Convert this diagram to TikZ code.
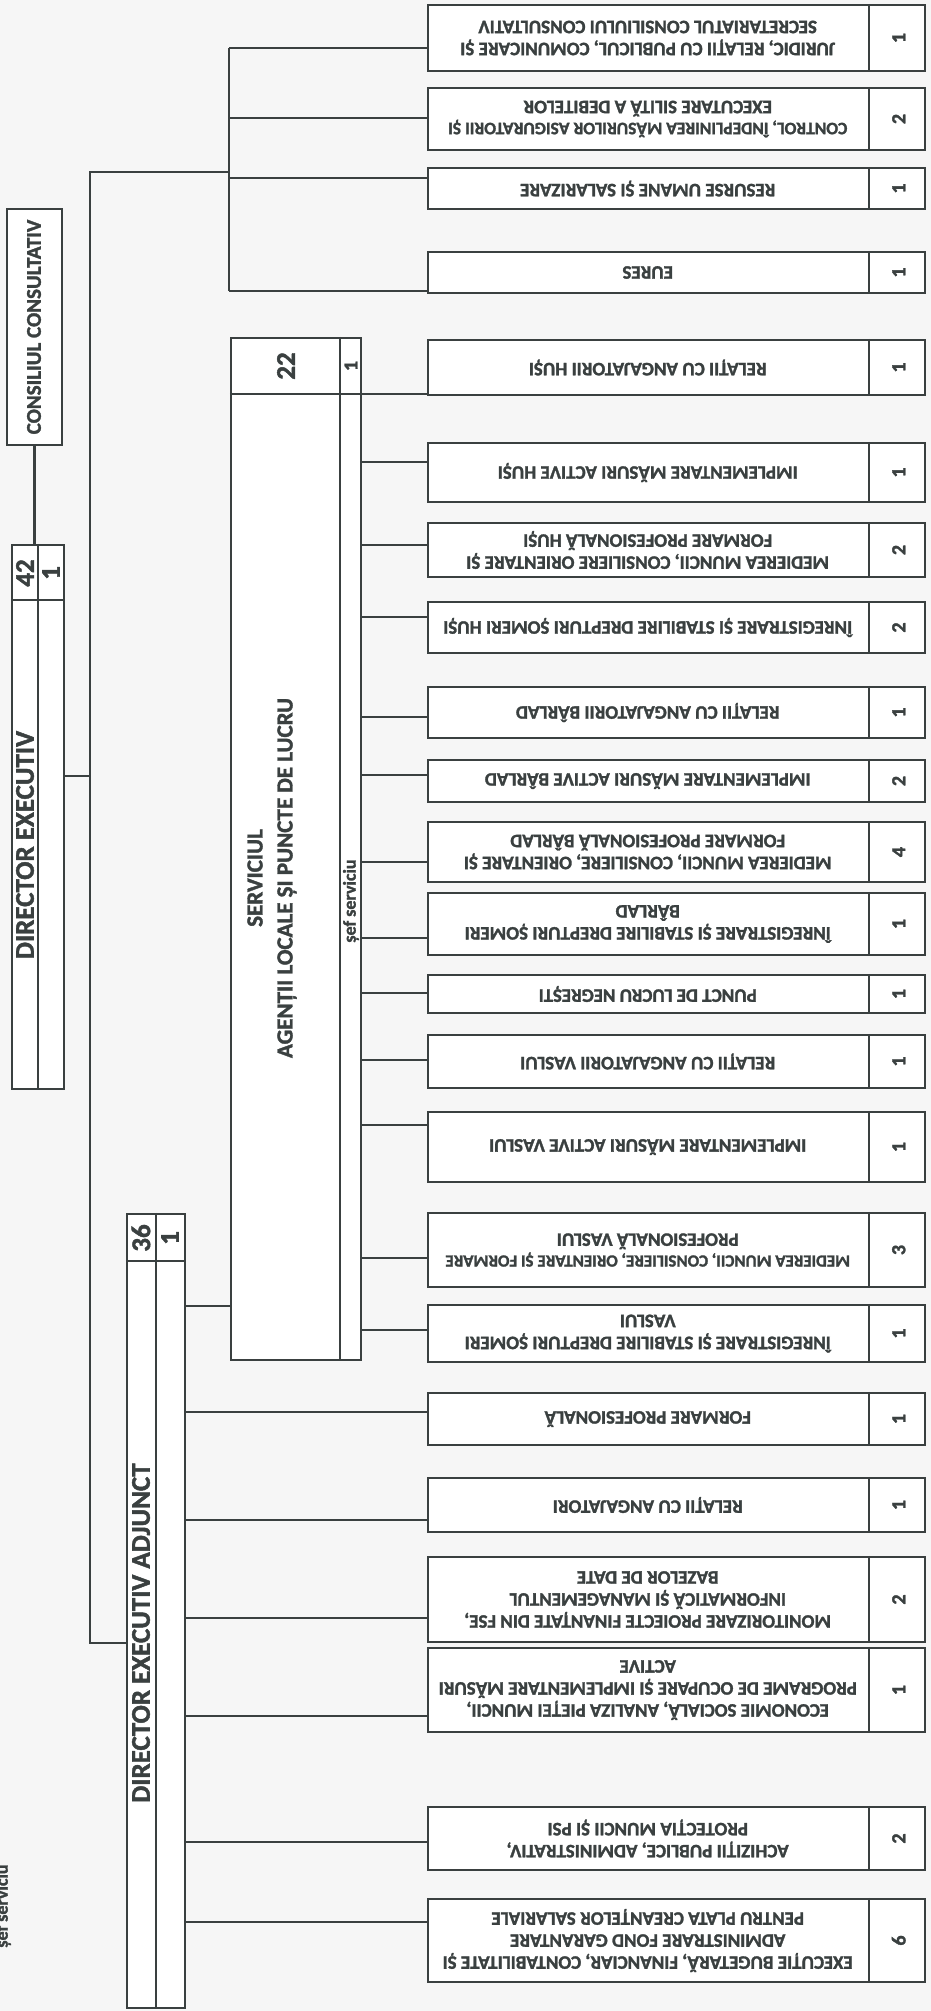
\documentclass[tikz,border=0pt]{standalone}
\usepackage{fontspec}
\setmainfont{Carlito}[BoldFeatures={FakeBold=1.6}]
\definecolor{ink}{HTML}{3A4040}
\definecolor{paper}{HTML}{F6F6F6}
\tikzset{
  link/.style={draw=ink, line width=2.5pt},
  unit box/.style={draw=ink, line width=2.5pt, fill=white, minimum width=497, inner sep=0},
  unit text/.style={rotate=180, align=center, text=ink, font=\fontsize{19}{22}\selectfont\bfseries},
  unit num/.style={rotate=90, text=ink, font=\fontsize{20}{22}\selectfont\bfseries},
  head box/.style={draw=ink, line width=2.5pt, fill=white, inner sep=0},
  head text/.style={rotate=90, text=ink, font=\fontsize{27}{30}\selectfont\bfseries},
  mid text/.style={rotate=90, align=center, text=ink, font=\fontsize{23}{30}\selectfont\bfseries},
  small text/.style={rotate=90, text=ink, font=\fontsize{18}{20}\selectfont\bfseries},
}
% name, top, bottom, link y, count, parent, text
\newcommand{\compbox}[7]{%
  \node[unit box, minimum height={#3-#2}] (#1) at (676.5,{(#2+#3)/2}) {};
  \draw[link] ([xshift=442pt]#1.north west) -- ([xshift=442pt]#1.south west);
  \node[unit text] (#1-txt) at ([xshift=221pt]#1.west) {#7};
  \node[unit num] (#1-cnt) at ([xshift=-27.5pt]#1.east) {#5};
  \coordinate (#1-in) at (428,#4);
  \draw[link] (#6 |- #1-in) -- (#1-in);
}

\begin{document}
\begin{tikzpicture}[x=1pt, y=-1pt]
  \fill[paper] (0,0) rectangle (931,2011);
  \useasboundingbox (0,0) rectangle (931,2011);

  % consiliu and director
  \node[head box, minimum width=55, minimum height=236] (cons) at (34.5,327) {};
  \node[mid text, font=\fontsize{21}{24}\selectfont\bfseries] (consname) at (34,327) {CONSILIUL CONSULTATIV};
  \node[head box, minimum width=52, minimum height=544] (dir) at (38,817) {};
  \draw[link] (dir.north) -- (dir.south);
  \draw[link] ([yshift=-56pt]dir.north west) -- ([yshift=-56pt]dir.north east);
  \node[head text] (dirnum) at (25,573) {42};
  \node[head text] (dirone) at (51,573) {1};
  \node[head text] (dirname) at (25,845) {DIRECTOR EXECUTIV};
  \draw[link] (cons.south) -- (cons.south |- dir.north);

  % serviciul agentii locale
  \node[head box, minimum width=130, minimum height=1022] (svc) at (296,849) {};
  \draw[link] ([xshift=110pt]svc.north west) -- ([xshift=110pt]svc.south west);
  \draw[link] ([yshift=-57pt]svc.north west) -- ([yshift=-57pt]svc.north east);
  \node[head text] (svcnum) at (286,366) {22};
  \node[unit num] (svcone) at (351,366) {1};
  \node[mid text] (svcname) at (272,878) {SERVICIUL\\AGENȚII LOCALE ȘI PUNCTE DE LUCRU};
  \node[small text] (svcsef) at (351,901) {șef serviciu};

  % director adjunct
  \node[head box, minimum width=58, minimum height=794] (adj) at (156,1611) {};
  \draw[link] (adj.north) -- (adj.south);
  \draw[link] ([yshift=-48pt]adj.north west) -- ([yshift=-48pt]adj.north east);
  \node[head text] (adjnum) at (141,1238) {36};
  \node[head text] (adjone) at (170,1238) {1};
  \node[head text] (adjname) at (141,1633) {DIRECTOR EXECUTIV ADJUNCT};

  \coordinate (bus) at (229,172);

  % compartimente
  \compbox{b1}{5}{71}{48}{1}{bus}{JURIDIC, RELAȚII CU PUBLICUL, COMUNICARE ȘI\\SECRETARIATUL CONSILIULUI CONSULTATIV}
  \compbox{b2}{88}{150}{118}{2}{bus}{{\fontsize{17.5}{22}\selectfont CONTROL, ÎNDEPLINIREA MĂSURILOR ASIGURATORII ȘI}\\EXECUTARE SILITĂ A DEBITELOR}
  \compbox{b3}{168}{209}{178}{1}{bus}{RESURSE UMANE ȘI SALARIZARE}
  \compbox{b4}{252}{293}{291}{1}{bus}{EURES}
  \compbox{b5}{340}{395}{394}{1}{svc.east}{RELAȚII CU ANGAJATORII HUȘI}
  \compbox{b6}{443}{502}{462}{1}{svc.east}{IMPLEMENTARE MĂSURI ACTIVE HUȘI}
  \compbox{b7}{523}{577}{545}{2}{svc.east}{MEDIEREA MUNCII, CONSILIERE ORIENTARE ȘI\\FORMARE PROFESIONALĂ HUȘI}
  \compbox{b8}{602}{653}{617}{2}{svc.east}{ÎNREGISTRARE ȘI STABILIRE DREPTURI ȘOMERI HUȘI}
  \compbox{b9}{687}{738}{717}{1}{svc.east}{RELAȚII CU ANGAJATORII BÂRLAD}
  \compbox{b10}{760}{802}{775}{2}{svc.east}{IMPLEMENTARE MĂSURI ACTIVE BÂRLAD}
  \compbox{b11}{822}{882}{862}{4}{svc.east}{MEDIEREA MUNCII, CONSILIERE, ORIENTARE ȘI\\FORMARE PROFESIONALĂ BÂRLAD}
  \compbox{b12}{893}{955}{938}{1}{svc.east}{ÎNREGISTRARE ȘI STABILIRE DREPTURI ȘOMERI\\BÂRLAD}
  \compbox{b13}{975}{1013}{993}{1}{svc.east}{PUNCT DE LUCRU NEGREȘTI}
  \compbox{b14}{1035}{1088}{1060}{1}{svc.east}{RELAȚII CU ANGAJATORII VASLUI}
  \compbox{b15}{1112}{1182}{1125}{1}{svc.east}{IMPLEMENTARE MĂSURI ACTIVE VASLUI}
  \compbox{b16}{1213}{1287}{1258}{3}{svc.east}{{\fontsize{17}{22}\selectfont MEDIEREA MUNCII, CONSILIERE, ORIENTARE ȘI FORMARE}\\PROFESIONALĂ VASLUI}
  \compbox{b17}{1305}{1362}{1330}{1}{svc.east}{ÎNREGISTRARE ȘI STABILIRE DREPTURI ȘOMERI\\VASLUI}
  \compbox{b18}{1393}{1445}{1412}{1}{adj.east}{FORMARE PROFESIONALĂ}
  \compbox{b19}{1478}{1532}{1520}{1}{adj.east}{RELAȚII CU ANGAJATORI}
  \compbox{b20}{1557}{1642}{1618}{2}{adj.east}{MONITORIZARE PROIECTE FINANȚATE DIN FSE,\\INFORMATICĂ ȘI MANAGEMENTUL\\BAZELOR DE DATE}
  \compbox{b21}{1648}{1732}{1716}{1}{adj.east}{ECONOMIE SOCIALĂ, ANALIZA PIEȚEI MUNCII,\\PROGRAME DE OCUPARE ȘI IMPLEMENTARE MĂSURI\\ACTIVE}
  \compbox{b22}{1807}{1870}{1842}{2}{adj.east}{ACHIZIȚII PUBLICE, ADMINISTRATIV,\\PROTECȚIA MUNCII ȘI PSI}
  \compbox{b23}{1899}{1982}{1922}{6}{adj.east}{EXECUȚIE BUGETARĂ, FINANCIAR, CONTABILITATE ȘI\\ADMINISTRARE FOND GARANTARE\\PENTRU PLATA CREANȚELOR SALARIALE}

  % trunk and bus
  \coordinate (trtop) at (90,172);
  \coordinate (trbot) at (90,1643);
  \coordinate (dirjoin) at (90,776);
  \coordinate (svcjoin) at (231,1306);
  \draw[link] (bus |- b1-in) -- (bus |- b4-in);
  \draw[link] (bus) -- (trtop) -- (trbot) -- (adj.west |- trbot);
  \draw[link] (dir.east |- dirjoin) -- (dirjoin);
  \draw[link] (adj.east |- svcjoin) -- (svcjoin);

  \node[small text] (stray) at (3,1906) {șef serviciu};
\end{tikzpicture}
\end{document}
